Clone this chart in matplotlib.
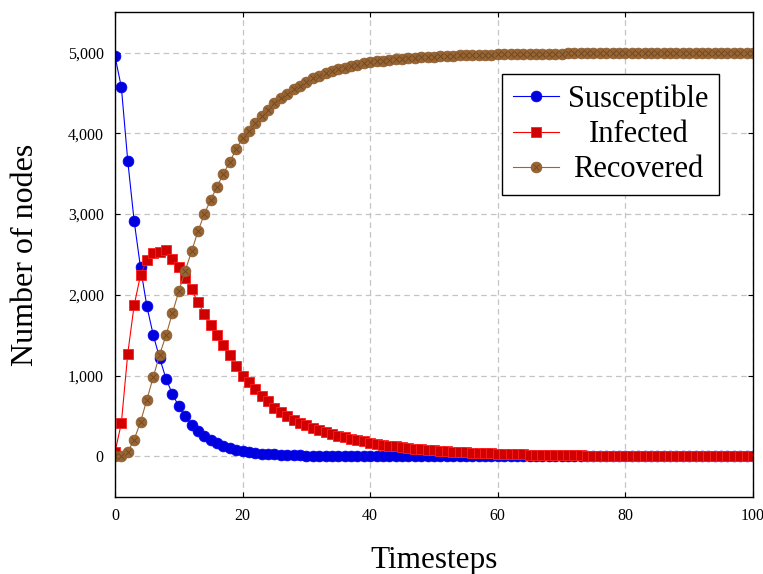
import matplotlib
matplotlib.use("Agg")
import matplotlib.pyplot as plt
from matplotlib.ticker import FuncFormatter, MultipleLocator
from matplotlib.legend_handler import HandlerTuple

plt.rcParams['font.family'] = ['Liberation Serif', 'DejaVu Serif']

# data (timesteps 0..100)
timesteps = list(range(101))

susceptible = [
    4955, 4572, 3660, 2917, 2339, 1857, 1502, 1217, 961, 772,
    619, 495, 392, 309, 248, 205, 165, 132, 103, 82,
    64, 52, 42, 34, 28, 23, 19, 16, 13, 11,
    9, 8, 7, 6, 5, 4, 4, 3, 3, 2,
    2, 2, 2, 1, 1, 1, 1, 1, 1, 1,
    1, 1, 1, 1, 1, 1, 0, 0, 0, 0,
    0, 0, 0, 0, 0, 0, 0, 0, 0, 0,
    0, 0, 0, 0, 0, 0, 0, 0, 0, 0,
    0, 0, 0, 0, 0, 0, 0, 0, 0, 0,
    0, 0, 0, 0, 0, 0, 0, 0, 0, 0,
    0,
]

infected = [
    50, 413, 1271, 1869, 2245, 2434, 2517, 2525, 2550, 2447,
    2339, 2207, 2071, 1906, 1766, 1630, 1506, 1382, 1250, 1114,
    990, 920, 834, 743, 681, 599, 545, 495, 454, 413,
    385, 355, 327, 301, 278, 256, 236, 217, 200, 184,
    170, 156, 144, 133, 122, 113, 104, 96, 88, 81,
    75, 69, 63, 58, 54, 50, 46, 42, 39, 36,
    33, 30, 28, 26, 24, 22, 20, 18, 17, 16,
    14, 13, 12, 11, 10, 9, 9, 8, 7, 7,
    6, 6, 5, 5, 4, 4, 4, 3, 3, 3,
    3, 2, 2, 2, 2, 2, 1, 1, 1, 1,
    1,
]

recovered = [
    0, 0, 54, 207, 425, 702, 982, 1259, 1498, 1775,
    2042, 2298, 2537, 2785, 3000, 3177, 3342, 3499, 3651, 3804,
    3948, 4035, 4134, 4217, 4291, 4381, 4436, 4489, 4547, 4592,
    4635, 4680, 4715, 4745, 4772, 4795, 4815, 4835, 4852, 4868,
    4880, 4892, 4902, 4911, 4919, 4926, 4932, 4938, 4943, 4948,
    4952, 4956, 4959, 4962, 4965, 4968, 4970, 4972, 4974, 4976,
    4978, 4979, 4981, 4982, 4983, 4984, 4985, 4986, 4987, 4988,
    4989, 4990, 4990, 4991, 4991, 4992, 4992, 4993, 4993, 4993,
    4994, 4994, 4994, 4995, 4995, 4995, 4996, 4996, 4996, 4996,
    4997, 4997, 4997, 4997, 4998, 4998, 4998, 4998, 4998, 4999,
    4999,
]

labels = ['Susceptible', 'Infected', 'Recovered']

fig = plt.figure(figsize=(7.63, 5.74), dpi=100)
ax = fig.add_axes([0.1507, 0.1347, 0.8362, 0.8439])

ms = 7.8
l_s, = ax.plot(timesteps, susceptible, color='#0000FF', lw=0.8,
               marker='o', ms=ms, mfc='#0000DD', mec='#0000FF', mew=0.5)
l_i, = ax.plot(timesteps, infected, color='#FF0000', lw=0.8,
               marker='s', ms=ms * 0.95, mfc='#D00000', mec='#FF2020', mew=0.6)
l_r, = ax.plot(timesteps, recovered, color='#9A6634', lw=0.8,
               marker='o', ms=ms, mfc='#996633', mec='#8A5A2E', mew=0.5)
# cross inside the brown circles (otimes marker)
l_rx, = ax.plot(timesteps, recovered, ls='none', marker='x', ms=ms * 0.6,
                mec='#6E4622', mew=0.6)

ax.set_xlim(0, 100)
ax.set_ylim(-500, 5500)
ax.xaxis.set_major_locator(MultipleLocator(20))
ax.yaxis.set_major_locator(MultipleLocator(1000))
ax.yaxis.set_major_formatter(FuncFormatter(lambda v, p: f'{int(v):,}'))

ax.grid(True, color='#C4C4C4', lw=0.9, ls=(0, (4.5, 3.2)))
ax.set_axisbelow(True)
for sp in ax.spines.values():
    sp.set_linewidth(1.0)
    sp.set_color('black')
ax.tick_params(direction='in', length=3.5, width=0.8, top=True, right=True,
               labelsize=11.5, pad=8, colors='black')

ax.set_xlabel('Timesteps', fontsize=22.5)
ax.xaxis.label.set_va('baseline')
ax.xaxis.set_label_coords(0.5, -0.147)
ax.set_ylabel('Number of nodes', fontsize=23)
ax.yaxis.label.set_va('baseline')
ax.yaxis.set_label_coords(-0.1285, 0.5)

leg = ax.legend([l_s, l_i, (l_r, l_rx)], labels,
                handler_map={tuple: HandlerTuple(ndivide=1)},
                loc='upper right', bbox_to_anchor=(0.947, 0.8726),
                fontsize=22, frameon=True, fancybox=False, framealpha=1,
                edgecolor='black', borderpad=0.35, labelspacing=0.2,
                handlelength=1.5, handletextpad=0.3, borderaxespad=0)
leg.get_frame().set_linewidth(1.0)

# centre the legend texts inside their column
fig.canvas.draw()
renderer = fig.canvas.get_renderer()
widths = [t.get_window_extent(renderer).width for t in leg.get_texts()]
wmax = max(widths)
for t, w in zip(leg.get_texts(), widths):
    t.set_x((wmax - w) / 2)

fig.savefig('out.png', dpi=100, facecolor='white')
